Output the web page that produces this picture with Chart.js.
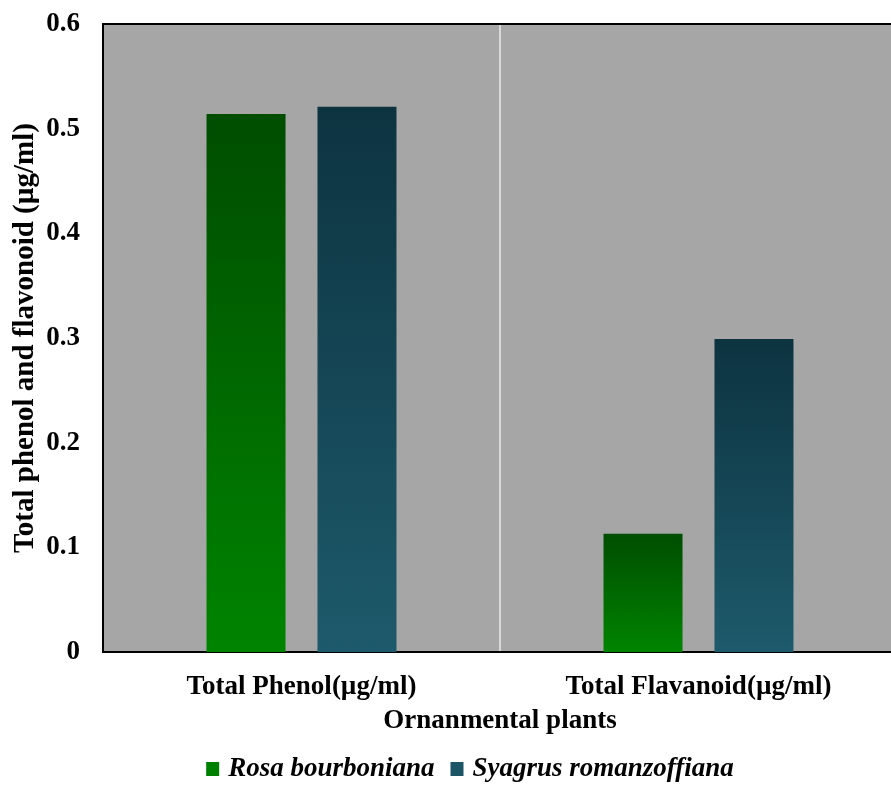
<!DOCTYPE html>
<html>
<head>
<meta charset="utf-8">
<script src="https://cdn.jsdelivr.net/npm/chart.js@4/dist/chart.umd.min.js"></script>
<style>
  html, body { margin: 0; padding: 0; background: #ffffff; }
  #wrap { width: 891px; height: 786px; }
</style>
</head>
<body>
<div id="wrap"><canvas id="grafico" width="891" height="786"></canvas></div>
<script>
// Datos
const categorias = ['Total Phenol(µg/ml)', 'Total Flavanoid(µg/ml)'];
const series = ['Rosa bourboniana', 'Syagrus romanzoffiana'];
const rosa = [0.514, 0.113];
const syagrus = [0.521, 0.299];
const etiquetasY = ['0', '0.1', '0.2', '0.3', '0.4', '0.5', '0.6'];

const fuente = "'Liberation Serif', 'Times New Roman', serif";
const colores = ['#008000', '#1b5566'];

// gradiente por barra (oscuro arriba, claro abajo)
function degradado(arriba, abajo) {
  return function (context) {
    const chart = context.chart;
    if (!chart.chartArea || context.raw === undefined) return abajo;
    const y = chart.scales.y;
    const y0 = y.getPixelForValue(0);
    const y1 = y.getPixelForValue(context.raw);
    const g = chart.ctx.createLinearGradient(0, y1, 0, y0);
    g.addColorStop(0, arriba);
    g.addColorStop(1, abajo);
    return g;
  };
}

// fondo gris, borde superior y leyenda
const fondo = {
  id: 'fondo',
  afterLayout(chart) {
    // el area del grafico se sale un poco por la derecha
    const x = chart.scales.x;
    x.right += 6;
    x.width += 6;
    chart.chartArea.right += 6;
    chart.chartArea.width += 6;
    x.configure();
  },
  beforeDraw(chart) {
    const { ctx, chartArea: a } = chart;
    ctx.save();
    ctx.fillStyle = '#a6a6a6';
    ctx.fillRect(a.left, a.top, a.right - a.left, a.bottom - a.top);
    ctx.restore();
  },
  afterDraw(chart) {
    const { ctx, chartArea: a } = chart;
    ctx.save();
    ctx.strokeStyle = '#000';
    ctx.lineWidth = 2;
    ctx.beginPath();
    ctx.moveTo(a.left, a.top);
    ctx.lineTo(a.right, a.top);
    ctx.stroke();

    // leyenda abajo
    ctx.font = "italic bold 27px " + fuente;
    ctx.textBaseline = 'middle';
    ctx.textAlign = 'left';
    const caja = 13, hueco = 9, entre = 16;
    const anchos = series.map(s => ctx.measureText(s).width);
    let total = 0;
    anchos.forEach((w, i) => { total += caja + hueco + w + (i > 0 ? entre : 0); });
    let x = 470 - total / 2;
    const yc = chart.height - 17;
    series.forEach((s, i) => {
      ctx.fillStyle = colores[i];
      ctx.fillRect(x, yc - 7, caja, 14);
      ctx.fillStyle = '#000';
      ctx.fillText(s, x + caja + hueco, yc);
      x += caja + hueco + anchos[i] + entre;
    });
    ctx.restore();
  }
};

new Chart(document.getElementById('grafico'), {
  type: 'bar',
  data: {
    labels: categorias,
    datasets: [
      {
        label: series[0],
        data: rosa,
        backgroundColor: degradado('#004d00', '#008400'),
        categoryPercentage: 0.559,
        barPercentage: 0.712
      },
      {
        label: series[1],
        data: syagrus,
        backgroundColor: degradado('#0d3340', '#1d5a6b'),
        categoryPercentage: 0.559,
        barPercentage: 0.712
      }
    ]
  },
  plugins: [fondo],
  options: {
    responsive: false,
    animation: false,
    layout: { padding: { top: 24, right: 0, left: 8, bottom: 37 } },
    plugins: {
      tooltip: { enabled: false },
      legend: { display: false }
    },
    scales: {
      x: {
        afterFit(scale) { scale.height = 97; },
        grid: {
          offset: true,
          display: true,
          color: '#d9d9d9',
          lineWidth: 2,
          drawTicks: false
        },
        border: { display: true, color: '#000', width: 2 },
        ticks: {
          color: '#000',
          padding: 19,
          font: { family: fuente, size: 27, weight: 'bold' }
        },
        title: {
          display: true,
          text: 'Ornanmental plants',
          color: '#000',
          padding: { top: 2, bottom: 12 },
          font: { family: fuente, size: 27, weight: 'bold' }
        }
      },
      y: {
        afterFit(scale) {
          scale.width = 95;
          scale.paddingTop = 0;
          scale.paddingBottom = 0;
        },
        min: 0,
        max: 0.6,
        grid: { display: false, drawTicks: false },
        border: { display: true, color: '#000', width: 2 },
        ticks: {
          stepSize: 0.1,
          color: '#000',
          padding: 23,
          font: { family: fuente, size: 27, weight: 'bold' },
          callback: (v, i) => etiquetasY[i]
        },
        title: {
          display: true,
          text: 'Total phenol and flavonoid (µg/ml)',
          color: '#000',
          padding: { top: 0, bottom: 4 },
          font: { family: fuente, size: 29, weight: 'bold' }
        }
      }
    }
  }
});
</script>
</body>
</html>
